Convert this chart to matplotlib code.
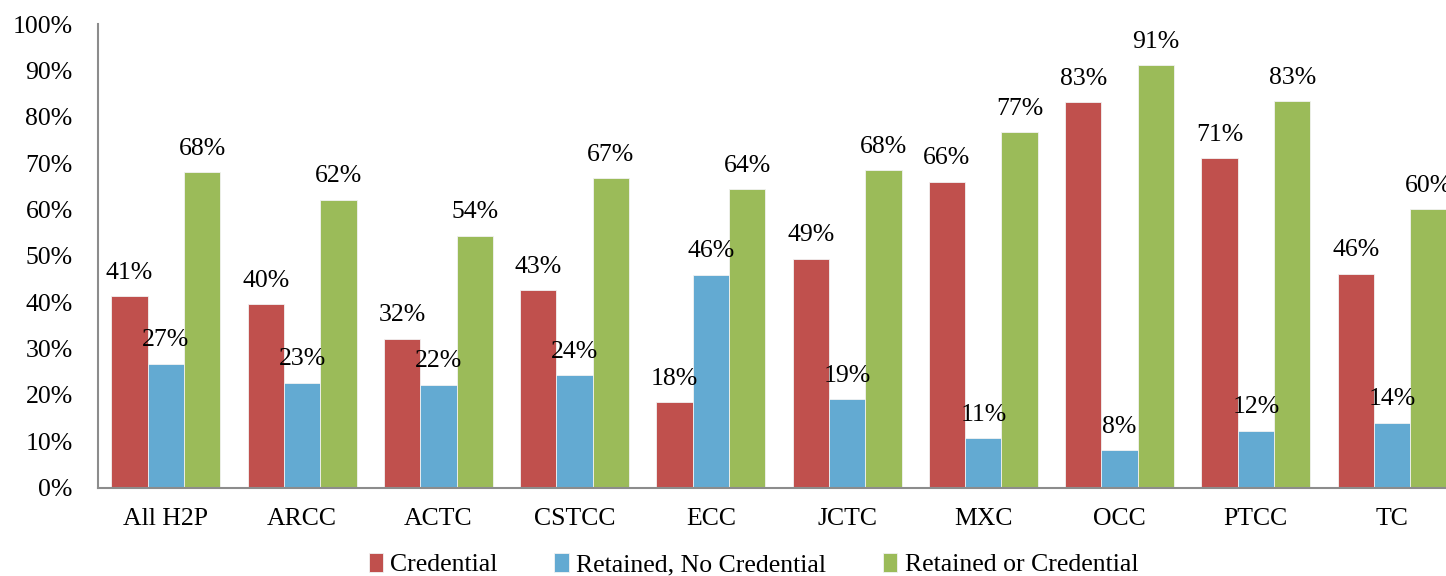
import matplotlib
matplotlib.use("Agg")
import matplotlib.pyplot as plt
import numpy as np

categories = ["All H2P", "ARCC", "ACTC", "CSTCC", "ECC", "JCTC", "MXC", "OCC", "PTCC", "TC"]
credential = [41.3, 39.6, 32.1, 42.6, 18.4, 49.4, 66.0, 83.1, 71.1, 46.1]
retained_no_cred = [26.7, 22.6, 22.2, 24.2, 45.9, 19.0, 10.7, 8.0, 12.3, 14.0]
retained_or_cred = [68.1, 62.1, 54.3, 66.7, 64.4, 68.5, 76.6, 91.1, 83.4, 60.1]
series_names = ["Credential", "Retained, No Credential", "Retained or Credential"]
colors = ["#C0504D", "#63AAD2", "#9BBB59"]
y_ticks = list(range(0, 101, 10))

plt.rcParams["font.family"] = ["Liberation Serif", "DejaVu Serif"]
FS = 18.5

fig = plt.figure(figsize=(14.46, 5.76), dpi=100)
ax = fig.add_axes([0.0676, 0.1536, 0.9422, 0.8047])

x = np.arange(len(categories))
w = 0.2667
for i, (vals, name, col) in enumerate(zip([credential, retained_no_cred, retained_or_cred],
                                          series_names, colors)):
    pos = x + (i - 1) * w
    ax.bar(pos, vals, width=w, color=col, edgecolor="#F2F2F2", linewidth=0.6, label=name)
    for px, v in zip(pos, vals):
        ax.annotate(f"{v:.0f}%", (px, v), xytext=(0, 12.5), textcoords="offset points",
                    ha="center", va="baseline", fontsize=FS, clip_on=False)

ax.set_xlim(-0.5, len(categories) - 0.5)
ax.set_ylim(0, 100)
ax.set_yticks(y_ticks)
ax.set_yticklabels([f"{t}%" for t in y_ticks], fontsize=FS)
ax.set_xticks(x)
ax.set_xticklabels(categories, fontsize=FS)
ax.tick_params(axis="y", length=0, pad=18)
ax.tick_params(axis="x", length=0, pad=15)
for side in ["top", "right"]:
    ax.spines[side].set_visible(False)
for side in ["left", "bottom"]:
    ax.spines[side].set_color("#8C8C8C")
    ax.spines[side].set_linewidth(1.5)

leg = fig.legend(loc="center", bbox_to_anchor=(0.521, 0.02), ncol=3, frameon=False,
                 fontsize=FS, handlelength=0.55, handleheight=0.8, handletextpad=0.3,
                 columnspacing=2.2)

fig.savefig("out.png", dpi=100)
